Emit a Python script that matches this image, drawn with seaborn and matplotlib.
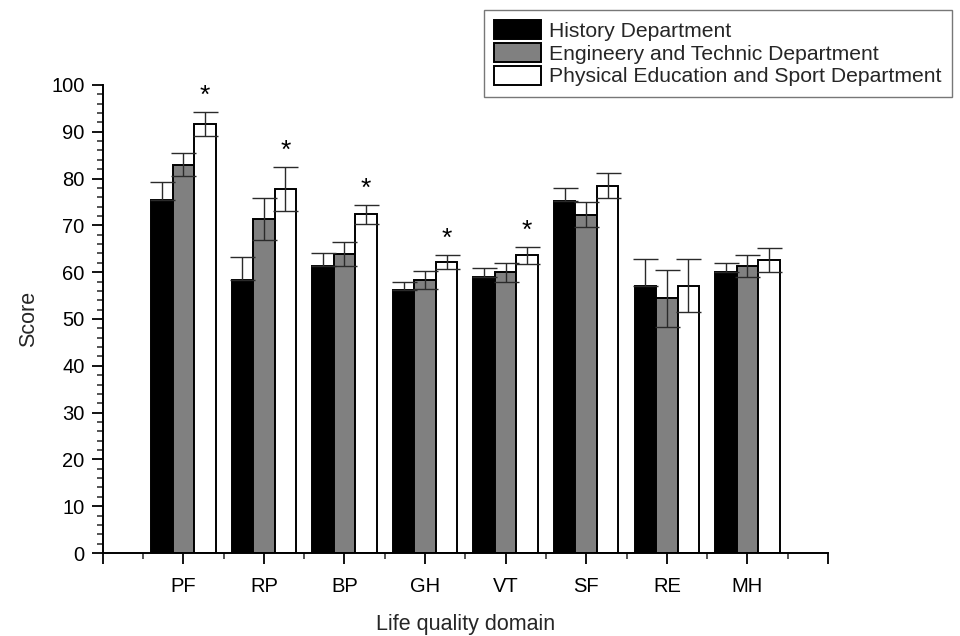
import matplotlib
matplotlib.use("Agg")
import matplotlib.pyplot as plt
import seaborn as sns
import pandas as pd
from matplotlib.ticker import MultipleLocator, FixedLocator

domains = ['PF', 'RP', 'BP', 'GH', 'VT', 'SF', 'RE', 'MH']
groups = ['History Department', 'Engineery and Technic Department',
          'Physical Education and Sport Department']
history = [75.4, 58.3, 61.3, 56.1, 59.0, 75.2, 57.1, 60.0]
history_err = [3.9, 5.0, 2.9, 1.9, 2.0, 2.7, 5.8, 2.0]
engineering = [83.0, 71.3, 63.9, 58.3, 60.0, 72.3, 54.4, 61.3]
engineering_err = [2.4, 4.5, 2.5, 2.0, 2.0, 2.6, 6.1, 2.4]
sport = [91.7, 77.8, 72.4, 62.1, 63.6, 78.5, 57.1, 62.6]
sport_err = [2.6, 4.7, 2.0, 1.5, 1.8, 2.6, 5.7, 2.5]
significant = [True, True, True, True, True, False, False, False]

colors = ['#000000', '#808080', '#ffffff']

rows = []
for vals, g in zip([history, engineering, sport], groups):
    for d, v in zip(domains, vals):
        rows.append({'domain': d, 'group': g, 'score': v})
df = pd.DataFrame(rows)

sns.set_style('ticks')
plt.rcParams['font.family'] = ['Liberation Sans', 'DejaVu Sans']

fig = plt.figure(figsize=(9.6, 6.36), dpi=100)
ax = fig.add_axes([0.107, 0.1305, 0.7555, 0.7359])

sns.barplot(data=df, x='domain', y='score', hue='group', order=domains,
            hue_order=groups, palette=colors, width=0.8, gap=0,
            errorbar=None, edgecolor='black', linewidth=1.4, ax=ax,
            saturation=1)

errs = [history_err, engineering_err, sport_err]
vals_all = [history, engineering, sport]
for i, (cont, vals, err) in enumerate(zip(ax.containers, vals_all, errs)):
    xs = [b.get_x() + b.get_width() / 2 for b in cont]
    if i == 0:
        yerr = [[0] * len(err), err]
    else:
        yerr = err
    ax.errorbar(xs, vals, yerr=yerr, fmt='none', ecolor='#2a2a2a',
                elinewidth=1.0, capsize=9, capthick=1.0, zorder=5)

sport_bars = ax.containers[2]
for b, v, e, s in zip(sport_bars, sport, sport_err, significant):
    if s:
        ax.text(b.get_x() + b.get_width() / 2, v + e + 0.9, '*',
                ha='center', va='bottom', fontsize=19, color='black')

ax.set_xlim(-1, 8)
ax.set_ylim(0, 100)
ax.xaxis.set_major_locator(FixedLocator(list(range(-1, 9))))
ax.set_xticklabels([''] + domains + [''])
ax.xaxis.set_minor_locator(FixedLocator([i + 0.5 for i in range(-1, 8)]))
ax.yaxis.set_major_locator(MultipleLocator(10))
ax.yaxis.set_minor_locator(MultipleLocator(2))
ax.tick_params(axis='both', which='major', direction='out', length=8,
               width=1.3, labelsize=14.5, colors='black')
ax.tick_params(axis='both', which='minor', direction='out', length=4,
               width=1.1)
ax.tick_params(axis='x', which='major', pad=9)
ax.tick_params(axis='y', which='major', pad=5)
for sp in ['top', 'right']:
    ax.spines[sp].set_visible(False)
for sp in ['left', 'bottom']:
    ax.spines[sp].set_linewidth(1.4)
    ax.spines[sp].set_color('black')

ax.set_xlabel('Life quality domain', fontsize=15.5, labelpad=13)
ax.set_ylabel('Score', fontsize=15.5, labelpad=9)

handles, labels = ax.get_legend_handles_labels()
ax.get_legend().remove()
leg = fig.legend(handles, labels, loc='upper right',
                 bbox_to_anchor=(0.992, 0.985), fontsize=15.2,
                 frameon=True, fancybox=False, edgecolor='#555555',
                 handlelength=2.2, handleheight=1.0, labelspacing=0.1,
                 handletextpad=0.4, borderpad=0.5, borderaxespad=0)
leg.get_frame().set_linewidth(1.0)

fig.savefig('out.png', dpi=100, facecolor='white')
